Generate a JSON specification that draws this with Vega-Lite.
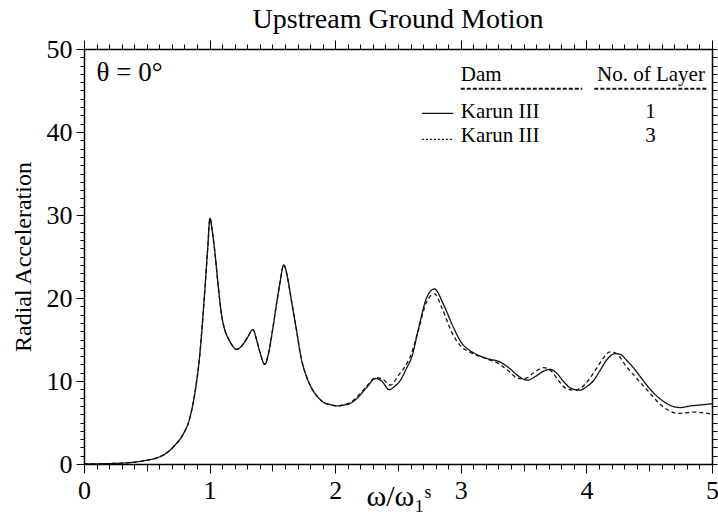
{
  "$schema": "https://vega.github.io/schema/vega-lite/v6.json",
  "width": 628,
  "height": 415,
  "autosize": {"type": "none"},
  "padding": {"left": 84, "top": 49, "right": 6, "bottom": 57},
  "background": "white",
  "title": {"text": "Upstream Ground Motion", "fontSize": 28, "font": "Liberation Serif", "fontWeight": "normal", "color": "#000", "anchor": "middle", "offset": 2},
  "datasets": {
    "curves": [
      {"x":0,"y":0,"s":"1"},{"x":0.1,"y":0.02,"s":"1"},{"x":0.2,"y":0.05,"s":"1"},{"x":0.3,"y":0.1,"s":"1"},{"x":0.4,"y":0.22,"s":"1"},{"x":0.5,"y":0.45,"s":"1"},{"x":0.6,"y":0.85,"s":"1"},{"x":0.66,"y":1.35,"s":"1"},{"x":0.72,"y":2.2,"s":"1"},{"x":0.79,"y":3.6,"s":"1"},{"x":0.84,"y":5.4,"s":"1"},{"x":0.88,"y":8.3,"s":"1"},{"x":0.92,"y":12.9,"s":"1"},{"x":0.96,"y":20.5,"s":"1"},{"x":0.985,"y":26.0,"s":"1"},{"x":1.003,"y":29.6,"s":"1"},{"x":1.02,"y":28.2,"s":"1"},{"x":1.04,"y":25.8,"s":"1"},{"x":1.067,"y":21.7,"s":"1"},{"x":1.094,"y":18.1,"s":"1"},{"x":1.12,"y":16.2,"s":"1"},{"x":1.15,"y":15.1,"s":"1"},{"x":1.18,"y":14.3,"s":"1"},{"x":1.215,"y":13.8,"s":"1"},{"x":1.26,"y":14.3,"s":"1"},{"x":1.3,"y":15.2,"s":"1"},{"x":1.346,"y":16.2,"s":"1"},{"x":1.37,"y":15.2,"s":"1"},{"x":1.4,"y":13.5,"s":"1"},{"x":1.44,"y":12.0,"s":"1"},{"x":1.47,"y":13.4,"s":"1"},{"x":1.505,"y":16.5,"s":"1"},{"x":1.535,"y":19.5,"s":"1"},{"x":1.56,"y":21.8,"s":"1"},{"x":1.59,"y":24.0,"s":"1"},{"x":1.62,"y":22.5,"s":"1"},{"x":1.65,"y":19.8,"s":"1"},{"x":1.69,"y":16.3,"s":"1"},{"x":1.73,"y":12.7,"s":"1"},{"x":1.77,"y":10.6,"s":"1"},{"x":1.81,"y":9.2,"s":"1"},{"x":1.86,"y":8.1,"s":"1"},{"x":1.905,"y":7.45,"s":"1"},{"x":1.96,"y":7.15,"s":"1"},{"x":2.02,"y":7.0,"s":"1"},{"x":2.07,"y":7.1,"s":"1"},
      {"x":2.12,"y":7.3,"s":"1"},{"x":2.17,"y":7.85,"s":"1"},{"x":2.25,"y":9.2,"s":"1"},{"x":2.32,"y":10.3,"s":"1"},{"x":2.37,"y":10.0,"s":"1"},{"x":2.43,"y":8.95,"s":"1"},{"x":2.47,"y":9.3,"s":"1"},{"x":2.52,"y":10.1,"s":"1"},{"x":2.57,"y":11.6,"s":"1"},{"x":2.61,"y":12.9,"s":"1"},{"x":2.66,"y":16.1,"s":"1"},{"x":2.73,"y":20.1,"s":"1"},{"x":2.79,"y":21.1,"s":"1"},{"x":2.86,"y":19.3,"s":"1"},{"x":2.94,"y":16.5,"s":"1"},{"x":3.01,"y":14.5,"s":"1"},{"x":3.07,"y":13.7,"s":"1"},{"x":3.14,"y":13.1,"s":"1"},{"x":3.21,"y":12.7,"s":"1"},{"x":3.31,"y":12.3,"s":"1"},{"x":3.39,"y":11.5,"s":"1"},{"x":3.45,"y":10.7,"s":"1"},{"x":3.53,"y":10.1,"s":"1"},{"x":3.6,"y":10.6,"s":"1"},{"x":3.66,"y":11.2,"s":"1"},{"x":3.71,"y":11.4,"s":"1"},{"x":3.76,"y":11.0,"s":"1"},{"x":3.82,"y":9.9,"s":"1"},{"x":3.88,"y":9.1,"s":"1"},{"x":3.95,"y":8.9,"s":"1"},{"x":4.0,"y":9.3,"s":"1"},{"x":4.06,"y":10.1,"s":"1"},{"x":4.11,"y":11.3,"s":"1"},{"x":4.16,"y":12.5,"s":"1"},{"x":4.23,"y":13.3,"s":"1"},{"x":4.27,"y":13.2,"s":"1"},{"x":4.32,"y":12.5,"s":"1"},{"x":4.38,"y":11.5,"s":"1"},{"x":4.43,"y":10.5,"s":"1"},{"x":4.52,"y":8.8,"s":"1"},{"x":4.6,"y":7.7,"s":"1"},{"x":4.67,"y":7.05,"s":"1"},{"x":4.75,"y":6.8,"s":"1"},{"x":4.83,"y":7.0,"s":"1"},{"x":4.9,"y":7.1,"s":"1"},{"x":5.0,"y":7.25,"s":"1"},
      {"x":0,"y":0,"s":"3"},{"x":0.1,"y":0.02,"s":"3"},{"x":0.2,"y":0.05,"s":"3"},{"x":0.3,"y":0.1,"s":"3"},{"x":0.4,"y":0.22,"s":"3"},{"x":0.5,"y":0.45,"s":"3"},{"x":0.6,"y":0.85,"s":"3"},{"x":0.66,"y":1.35,"s":"3"},{"x":0.72,"y":2.2,"s":"3"},{"x":0.79,"y":3.6,"s":"3"},{"x":0.84,"y":5.4,"s":"3"},{"x":0.88,"y":8.3,"s":"3"},{"x":0.92,"y":12.9,"s":"3"},{"x":0.96,"y":20.5,"s":"3"},{"x":0.985,"y":26.0,"s":"3"},{"x":1.003,"y":29.6,"s":"3"},{"x":1.02,"y":28.2,"s":"3"},{"x":1.04,"y":25.8,"s":"3"},{"x":1.067,"y":21.7,"s":"3"},{"x":1.094,"y":18.1,"s":"3"},{"x":1.12,"y":16.2,"s":"3"},{"x":1.15,"y":15.1,"s":"3"},{"x":1.18,"y":14.3,"s":"3"},{"x":1.215,"y":13.8,"s":"3"},{"x":1.26,"y":14.3,"s":"3"},{"x":1.3,"y":15.2,"s":"3"},{"x":1.346,"y":16.2,"s":"3"},{"x":1.37,"y":15.2,"s":"3"},{"x":1.4,"y":13.5,"s":"3"},{"x":1.44,"y":12.0,"s":"3"},{"x":1.47,"y":13.4,"s":"3"},{"x":1.505,"y":16.5,"s":"3"},{"x":1.535,"y":19.5,"s":"3"},{"x":1.56,"y":21.8,"s":"3"},{"x":1.59,"y":24.0,"s":"3"},{"x":1.62,"y":22.5,"s":"3"},{"x":1.65,"y":19.8,"s":"3"},{"x":1.69,"y":16.3,"s":"3"},{"x":1.73,"y":12.7,"s":"3"},{"x":1.77,"y":10.6,"s":"3"},{"x":1.81,"y":9.2,"s":"3"},{"x":1.86,"y":8.1,"s":"3"},{"x":1.905,"y":7.45,"s":"3"},{"x":1.96,"y":7.15,"s":"3"},{"x":2.02,"y":7.0,"s":"3"},{"x":2.07,"y":7.15,"s":"3"},
      {"x":2.12,"y":7.4,"s":"3"},{"x":2.2,"y":8.5,"s":"3"},{"x":2.27,"y":9.7,"s":"3"},{"x":2.32,"y":10.4,"s":"3"},{"x":2.38,"y":10.2,"s":"3"},{"x":2.44,"y":9.5,"s":"3"},{"x":2.5,"y":10.6,"s":"3"},{"x":2.57,"y":12.1,"s":"3"},{"x":2.6,"y":13.0,"s":"3"},{"x":2.66,"y":16.0,"s":"3"},{"x":2.73,"y":19.6,"s":"3"},{"x":2.79,"y":20.5,"s":"3"},{"x":2.85,"y":18.8,"s":"3"},{"x":2.93,"y":15.8,"s":"3"},{"x":3.0,"y":14.2,"s":"3"},{"x":3.07,"y":13.5,"s":"3"},{"x":3.2,"y":12.7,"s":"3"},{"x":3.3,"y":12.1,"s":"3"},{"x":3.38,"y":11.2,"s":"3"},{"x":3.46,"y":10.3,"s":"3"},{"x":3.51,"y":10.3,"s":"3"},{"x":3.58,"y":11.0,"s":"3"},{"x":3.66,"y":11.6,"s":"3"},{"x":3.72,"y":11.2,"s":"3"},{"x":3.78,"y":10.0,"s":"3"},{"x":3.84,"y":9.1,"s":"3"},{"x":3.9,"y":8.9,"s":"3"},{"x":3.95,"y":9.1,"s":"3"},{"x":4.0,"y":9.8,"s":"3"},{"x":4.05,"y":10.8,"s":"3"},{"x":4.1,"y":12.0,"s":"3"},{"x":4.19,"y":13.5,"s":"3"},{"x":4.24,"y":13.3,"s":"3"},{"x":4.32,"y":11.7,"s":"3"},{"x":4.39,"y":10.5,"s":"3"},{"x":4.46,"y":9.3,"s":"3"},{"x":4.52,"y":8.3,"s":"3"},{"x":4.57,"y":7.45,"s":"3"},{"x":4.65,"y":6.5,"s":"3"},{"x":4.72,"y":6.1,"s":"3"},{"x":4.86,"y":6.25,"s":"3"},{"x":5.0,"y":6.0,"s":"3"}
    ],
    "legLeft": [
      {"x":3.0,"y":46.15,"label":"Dam"},
      {"x":3.0,"y":41.7,"label":"Karun III"},
      {"x":3.0,"y":38.8,"label":"Karun III"}
    ],
    "legCenter": [
      {"x":4.514,"y":46.15,"label":"No. of Layer"},
      {"x":4.51,"y":41.7,"label":"1"},
      {"x":4.51,"y":38.8,"label":"3"}
    ],
    "underlines": [
      {"x":3.0,"x2":3.967,"y":45.2},
      {"x":4.063,"x2":4.963,"y":45.2}
    ],
    "sampleSolid": [{"x":2.69,"x2":2.94,"y":42.24}],
    "sampleDash": [{"x":2.69,"x2":2.94,"y":39.1}],
    "theta": [{"x":0.1,"y":46.2,"label":"θ = 0°"}]
  },
  "resolve": {"axis": {"x": "independent", "y": "independent"}},
  "layer": [
    {
      "data": {"name": "curves"},
      "mark": {"type": "line", "color": "#111", "strokeWidth": 1.3, "interpolate": "monotone"},
      "encoding": {
        "x": {"field": "x", "type": "quantitative", "scale": {"domain": [0, 5], "nice": false, "zero": false},
          "axis": {"orient": "bottom", "values": [0,1,2,3,4,5], "tickSize": 9, "labelFontSize": 26, "labelPadding": 4, "title": "ω/ω₁ˢ", "titleFontSize": 30, "titleAlign": "left", "titleBaseline": "alphabetic", "titleX": 282, "titleY": 41, "domain": true}},
        "y": {"field": "y", "type": "quantitative", "scale": {"domain": [0, 50], "nice": false, "zero": false},
          "axis": {"orient": "left", "values": [0,10,20,30,40,50], "tickSize": 8, "labelFontSize": 26, "labelPadding": 4, "title": "Radial Acceleration", "titleFontSize": 24, "titleAngle": -90, "titleAlign": "center", "titleBaseline": "alphabetic", "titleX": -54, "titleY": 207.5, "domain": true}},
        "strokeDash": {"field": "s", "type": "nominal", "scale": {"domain": ["1", "3"], "range": [[1, 0], [4, 3]]}, "legend": null},
        "detail": {"field": "s"}
      }
    },
    {
      "data": {"name": "legLeft"},
      "mark": {"type": "text", "align": "left", "baseline": "alphabetic", "fontSize": 21, "font": "Liberation Serif", "color": "#000"},
      "encoding": {
        "x": {"field": "x", "type": "quantitative", "scale": {"domain": [0, 5], "nice": false, "zero": false},
          "axis": {"orient": "bottom", "values": [0,0.1,0.2,0.3,0.4,0.5,0.6,0.7,0.8,0.9,1,1.1,1.2,1.3,1.4,1.5,1.6,1.7,1.8,1.9,2,2.1,2.2,2.3,2.4,2.5,2.6,2.7,2.8,2.9,3,3.1,3.2,3.3,3.4,3.5,3.6,3.7,3.8,3.9,4,4.1,4.2,4.3,4.4,4.5,4.6,4.7,4.8,4.9,5], "tickSize": 5, "labels": false, "domain": false, "title": null}},
        "y": {"field": "y", "type": "quantitative", "scale": {"domain": [0, 50], "nice": false, "zero": false},
          "axis": {"orient": "left", "values": [0,1,2,3,4,5,6,7,8,9,10,11,12,13,14,15,16,17,18,19,20,21,22,23,24,25,26,27,28,29,30,31,32,33,34,35,36,37,38,39,40,41,42,43,44,45,46,47,48,49,50], "tickSize": 4, "labels": false, "domain": false, "title": null}},
        "text": {"field": "label"}
      }
    },
    {
      "data": {"name": "legCenter"},
      "mark": {"type": "text", "align": "center", "baseline": "alphabetic", "fontSize": 21, "font": "Liberation Serif", "color": "#000"},
      "encoding": {
        "x": {"field": "x", "type": "quantitative", "scale": {"domain": [0, 5], "nice": false, "zero": false},
          "axis": {"orient": "top", "values": [0,0.1,0.2,0.3,0.4,0.5,0.6,0.7,0.8,0.9,1,1.1,1.2,1.3,1.4,1.5,1.6,1.7,1.8,1.9,2,2.1,2.2,2.3,2.4,2.5,2.6,2.7,2.8,2.9,3,3.1,3.2,3.3,3.4,3.5,3.6,3.7,3.8,3.9,4,4.1,4.2,4.3,4.4,4.5,4.6,4.7,4.8,4.9,5], "tickSize": 5, "labels": false, "domain": true, "title": null}},
        "y": {"field": "y", "type": "quantitative", "scale": {"domain": [0, 50], "nice": false, "zero": false},
          "axis": {"orient": "right", "values": [0,1,2,3,4,5,6,7,8,9,10,11,12,13,14,15,16,17,18,19,20,21,22,23,24,25,26,27,28,29,30,31,32,33,34,35,36,37,38,39,40,41,42,43,44,45,46,47,48,49,50], "tickSize": 5, "labels": false, "domain": true, "title": null}},
        "text": {"field": "label"}
      }
    },
    {
      "data": {"name": "underlines"},
      "mark": {"type": "rule", "color": "#111", "strokeWidth": 2, "strokeDash": [4, 2]},
      "encoding": {
        "x": {"field": "x", "type": "quantitative", "scale": {"domain": [0, 5], "nice": false, "zero": false},
          "axis": {"orient": "top", "values": [0,1,2,3,4,5], "tickSize": 9, "labels": false, "domain": false, "title": null}},
        "x2": {"field": "x2"},
        "y": {"field": "y", "type": "quantitative", "scale": {"domain": [0, 50], "nice": false, "zero": false}, "axis": null}
      }
    },
    {
      "data": {"name": "sampleSolid"},
      "mark": {"type": "rule", "color": "#111", "strokeWidth": 1.3},
      "encoding": {
        "x": {"field": "x", "type": "quantitative", "scale": {"domain": [0, 5], "nice": false, "zero": false},
          "axis": {"orient": "bottom", "values": [0.5,1.5,2.5,3.5,4.5], "tickSize": 7, "labels": false, "domain": false, "title": null}},
        "x2": {"field": "x2"},
        "y": {"field": "y", "type": "quantitative", "scale": {"domain": [0, 50], "nice": false, "zero": false}, "axis": null}
      }
    },
    {
      "data": {"name": "sampleDash"},
      "mark": {"type": "rule", "color": "#111", "strokeWidth": 1.3, "strokeDash": [2, 2]},
      "encoding": {
        "x": {"field": "x", "type": "quantitative", "scale": {"domain": [0, 5], "nice": false, "zero": false}, "axis": null},
        "x2": {"field": "x2"},
        "y": {"field": "y", "type": "quantitative", "scale": {"domain": [0, 50], "nice": false, "zero": false}, "axis": null}
      }
    },
    {
      "data": {"name": "theta"},
      "mark": {"type": "text", "align": "left", "baseline": "alphabetic", "fontSize": 27, "font": "Liberation Serif", "color": "#000"},
      "encoding": {
        "x": {"field": "x", "type": "quantitative", "scale": {"domain": [0, 5], "nice": false, "zero": false}, "axis": null},
        "y": {"field": "y", "type": "quantitative", "scale": {"domain": [0, 50], "nice": false, "zero": false}, "axis": null},
        "text": {"field": "label"}
      }
    }
  ],
  "config": {
    "view": {"stroke": null},
    "font": "Liberation Serif",
    "axis": {"grid": false, "domainColor": "#000", "tickColor": "#000", "labelColor": "#000", "titleColor": "#000", "labelFont": "Liberation Serif", "titleFont": "Liberation Serif", "titleFontWeight": "normal", "labelFlush": false, "labelOverlap": false, "tickWidth": 1, "domainWidth": 1.5}
  }
}
